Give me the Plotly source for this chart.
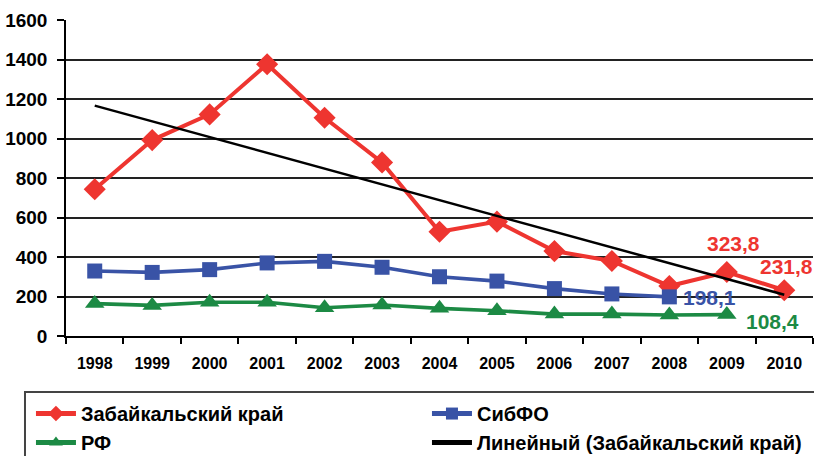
import numpy as np
import plotly.graph_objects as go

# Годы наблюдений
years = ["1998", "1999", "2000", "2001", "2002", "2003", "2004",
         "2005", "2006", "2007", "2008", "2009", "2010"]

# Забайкальский край
zab = [743, 992, 1122, 1376, 1105, 879, 528, 579, 430, 380, 253, 323.8, 231.8]
# СибФО (до 2008 г.)
sibfo = [329, 322, 336, 370, 378, 348, 300, 278, 240, 213, 198.1]
# РФ (до 2009 г.)
rf = [164, 155, 171, 171, 143, 157, 140, 128, 111, 111, 106, 108.4]

y_ticks = [0, 200, 400, 600, 800, 1000, 1200, 1400, 1600]

RED = "#EE3530"
BLUE = "#3953A6"
GREEN = "#1C8A44"
FONT = "Liberation Sans, Arial, sans-serif"

# Линейный тренд по Забайкальскому краю
idx = np.arange(len(zab))
k, b = np.polyfit(idx, zab, 1)
trend = k * idx + b

fig = go.Figure()
fig.add_trace(go.Scatter(
    x=years, y=zab, name="Забайкальский край", mode="lines+markers",
    line=dict(color=RED, width=4),
    marker=dict(symbol="diamond", size=17, color=RED)))
fig.add_trace(go.Scatter(
    x=years[:len(sibfo)], y=sibfo, name="СибФО", mode="lines+markers",
    line=dict(color=BLUE, width=3.6),
    marker=dict(symbol="square", size=15, color=BLUE)))
fig.add_trace(go.Scatter(
    x=years[:len(rf)], y=rf, name="РФ", mode="lines+markers",
    line=dict(color=GREEN, width=3.6),
    marker=dict(symbol="triangle-up", size=17, color=GREEN)))
fig.add_trace(go.Scatter(
    x=years, y=trend, name="Линейный (Забайкальский край)", mode="lines",
    line=dict(color="black", width=2.5)))


def fmt(v):
    return f"{v:.1f}".replace(".", ",")


# Подписи последних значений (x — порядковый номер категории)
labels = [
    (11, zab[11], RED, "center", 7, 29),
    (12, zab[12], RED, "center", 2, 24),
    (len(sibfo) - 1, sibfo[-1], BLUE, "left", 12, -1),
    (len(rf) - 1, rf[-1], GREEN, "left", 17, -7),
]
for x, v, c, anchor, dx, dy in labels:
    fig.add_annotation(x=x, y=v, text=fmt(v), showarrow=False,
                       xanchor=anchor, yanchor="middle", xshift=dx, yshift=dy,
                       font=dict(family=FONT, size=21, color=c, weight="bold"))

# Рамка легенды
fig.add_shape(type="rect", xref="paper", yref="paper",
              x0=-0.0549, x1=1.01, y0=-0.40, y1=-0.177,
              line=dict(color="#444", width=2), fillcolor="rgba(0,0,0,0)")

fig.update_layout(
    width=814, height=456,
    margin=dict(l=66, r=1, t=20, b=120, autoexpand=False),
    paper_bgcolor="white", plot_bgcolor="white",
    font=dict(family=FONT, color="black"),
    showlegend=True,
    legend=dict(orientation="h", x=-0.0469, xanchor="left",
                y=-0.1837, yanchor="top",
                entrywidth=341, entrywidthmode="pixels",
                itemsizing="constant", itemwidth=40,
                traceorder="normal",
                font=dict(family=FONT, size=20, color="black", weight="bold"),
                bgcolor="rgba(0,0,0,0)", borderwidth=0, tracegroupgap=0),
    xaxis=dict(type="category", showgrid=False, showline=True,
               linecolor="black", linewidth=1.5,
               ticks="outside", tickson="boundaries", ticklen=6,
               tickcolor="black", tickwidth=1.5, ticklabelstandoff=12,
               tickfont=dict(family=FONT, size=16, weight="bold"),
               range=[-0.5, 12.5]),
    yaxis=dict(range=[0, 1600], tickvals=y_ticks, showgrid=True,
               gridcolor="#222", gridwidth=1.5, zeroline=False,
               showline=True, linecolor="black", linewidth=1.5,
               ticks="outside", ticklen=7, tickcolor="black", tickwidth=1.5,
               ticklabelstandoff=6,
               tickfont=dict(family=FONT, size=19, weight="bold")),
)

fig.write_html("out.html")
